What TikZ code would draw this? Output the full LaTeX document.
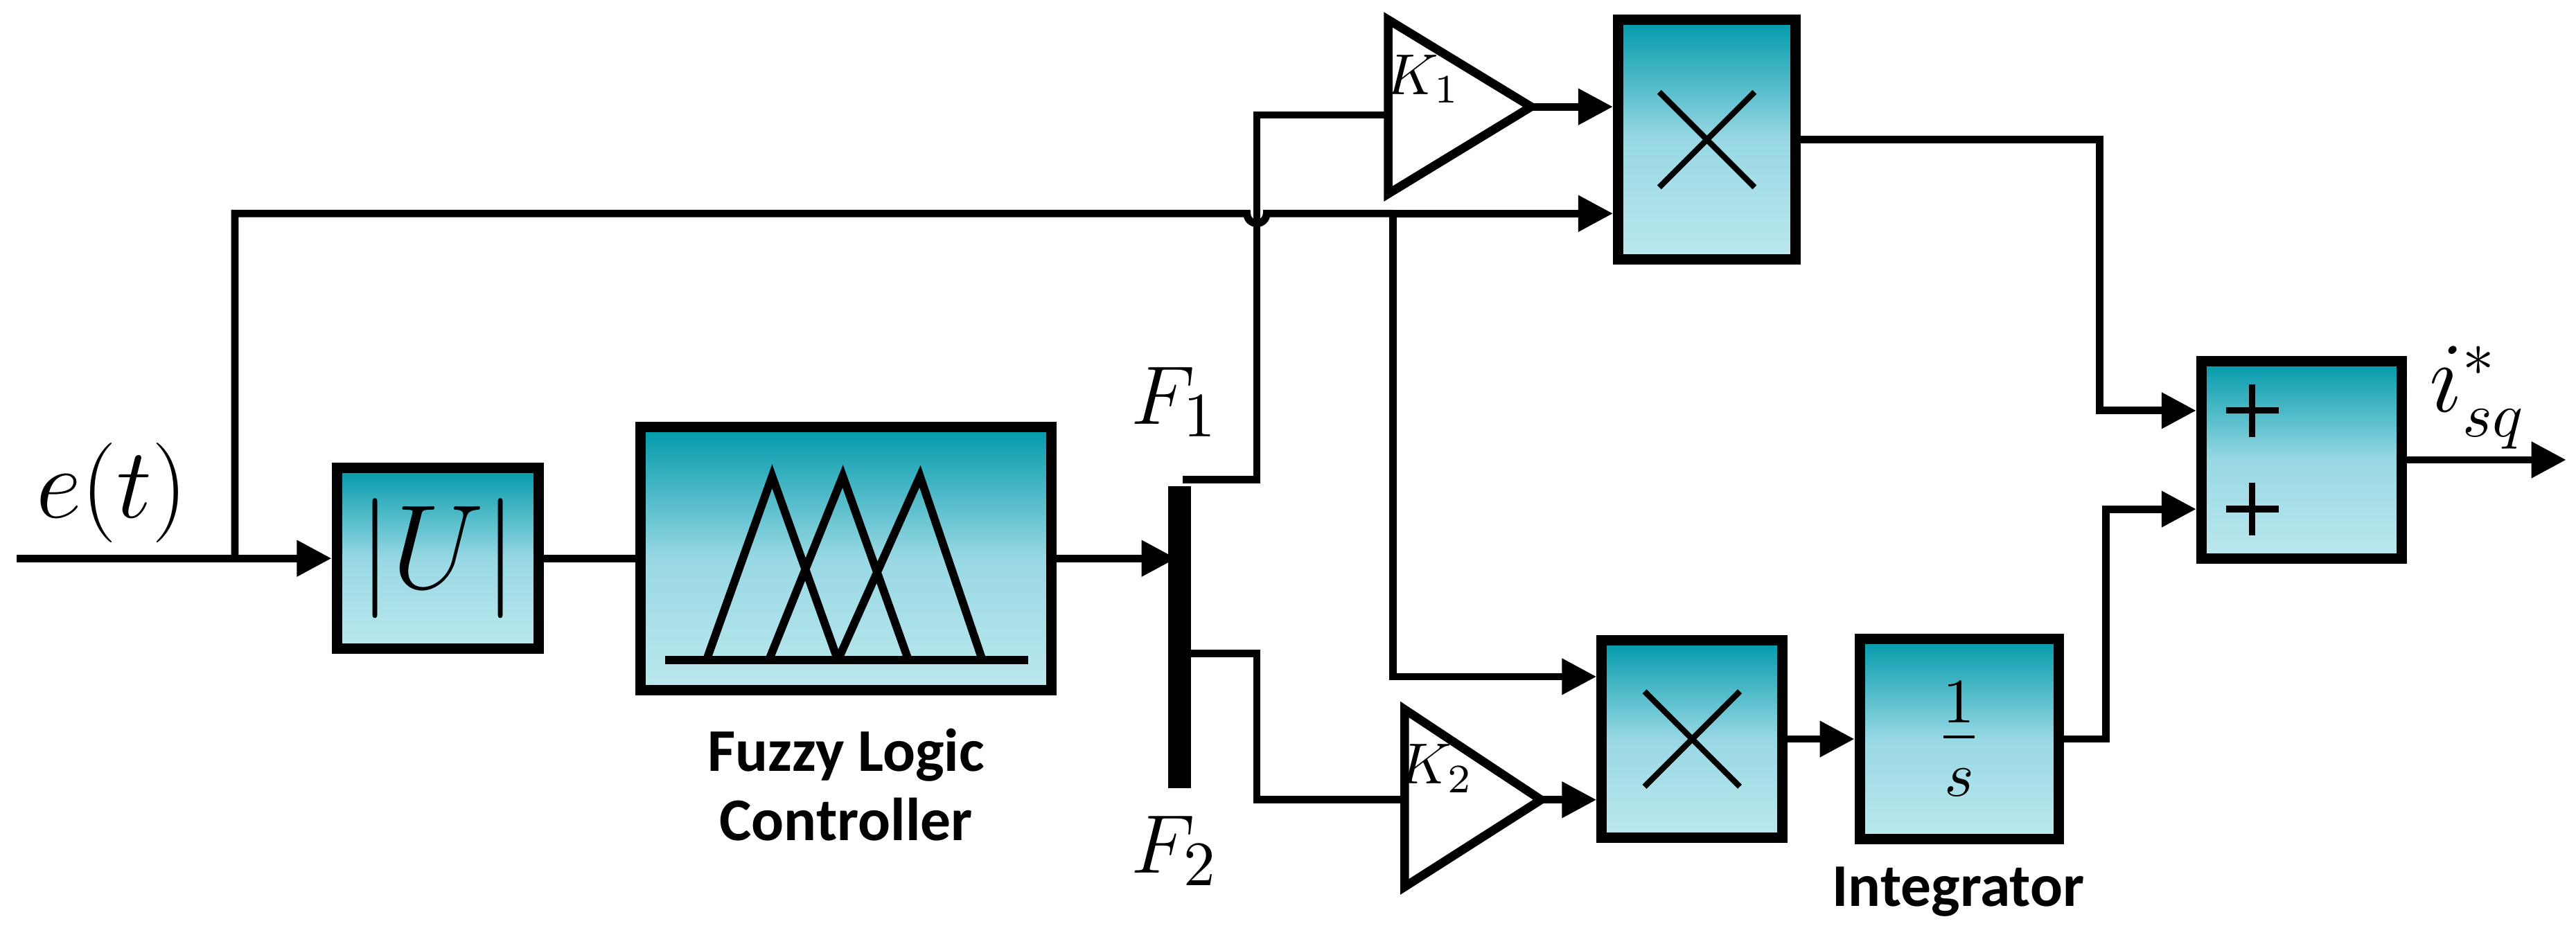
\documentclass[tikz,border=0pt]{standalone}
\usepackage{fontspec}
\setsansfont{Carlito}
\usetikzlibrary{arrows.meta}
\definecolor{tealtop}{HTML}{0099AA}
\definecolor{tealmid}{HTML}{98D8E4}
\definecolor{tealbot}{HTML}{BCE8EE}
\begin{document}
\begin{tikzpicture}[x=0.01cm,y=-0.01cm,
  wire/.style={line width=1.3pt},
  arr/.style={wire,-{Triangle[length=6pt,width=6pt]}},
  blk/.style={draw,line width=1.8pt,top color=tealtop,bottom color=tealbot,middle color=tealmid,inner sep=0pt},
  lbl/.style={font=\sffamily\bfseries\fontsize{10.5}{12}\selectfont,align=center},
  gain/.style={line width=1.5pt,fill=white,line join=miter}]
\useasboundingbox (0,0) rectangle (1568,569);
% blocks
\node[blk,minimum width=1.23cm,minimum height=1.10cm] (U) at (266.5,340) {\fontsize{20}{22}\selectfont$\left|U\right|$};
\node[blk,minimum width=2.50cm,minimum height=1.60cm] (F) at (515,340) {};
\node[blk,minimum width=1.08cm,minimum height=1.46cm] (M1) at (1039,85) {};
\node[blk,minimum width=1.10cm,minimum height=1.20cm] (M2) at (1030,450) {};
\node[blk,minimum width=1.21cm,minimum height=1.22cm] (I) at (1192.5,450) {\fontsize{16}{18}\selectfont$\frac{1}{s}$};
\node[blk,minimum width=1.22cm,minimum height=1.20cm] (S) at (1401,280) {};
% multiply crosses
\foreach \n in {M1,M2}{
  \draw[line width=1pt] ([shift={(-2.9mm,-2.9mm)}]\n.center) -- ([shift={(2.9mm,2.9mm)}]\n.center);
  \draw[line width=1pt] ([shift={(-2.9mm,2.9mm)}]\n.center) -- ([shift={(2.9mm,-2.9mm)}]\n.center);}
\foreach \yy in {250,310}{
  \draw[line width=1.1pt] (1355,\yy) -- (1387,\yy) (1371,\yy-16) -- (1371,\yy+16);}
% fuzzy membership functions
\draw[line width=1.4pt] (405,402) -- (626,402);
\draw[line width=1.4pt] (430,402) -- (470,290) -- (510,402)
  (468,402) -- (513,290) -- (553,402)
  (510,402) -- (560,290) -- (598,402);
% mux bar
\draw[line width=4pt] (718,296) -- (718,480);
\node[font=\fontsize{15}{17}\selectfont] at (715,245) {$F_1$};
\node[font=\fontsize{15}{17}\selectfont] at (715,518) {$F_2$};
% gains
\draw[gain] (845,12) -- (932,65) -- (845,118) -- cycle;
\coordinate (K1i) at (845,70); \coordinate (K1o) at (932,65);
\node[font=\fontsize{10}{12}\selectfont] at (866,48) {$K_1$};
\draw[gain] (855,432) -- (938,487) -- (855,540) -- cycle;
\coordinate (K2i) at (855,487); \coordinate (K2o) at (938,487);
\node[font=\fontsize{10}{12}\selectfont] at (874,468) {$K_2$};
% labels
\node[font=\fontsize{16}{18}\selectfont] (et) at (68,300) {$e(t)$};
\node[lbl] at (515,478) {Fuzzy Logic\\Controller};
\node[lbl] at (1192,543) {Integrator};
\node[font=\fontsize{16}{18}\selectfont] at (1508,242) {$i_{sq}^{*}$};
% wires
\coordinate (in) at (10,340);
\coordinate (br) at (143,340);
\draw[arr] (in) -- (U.west);
\draw[wire] (U.east) -- (F.west);
\draw[arr] (F.east) -- (716,340);
\draw[wire] (br) |- (759,130) arc[start angle=180,end angle=0,radius=6] -- (848,130) coordinate (tap);
\draw[arr] (tap) -- (M1.west |- 0,130);
\draw[arr] (tap) |- (M2.west |- 0,412);
\draw[wire] (720,292) -| (765,70) -- (K1i);
\draw[arr] (K1o) -- (M1.west |- K1o);
\draw[wire] (720,398) -| (765,487) -- (K2i);
\draw[arr] (K2o) -- (M2.west |- K2o);
\draw[arr] (M2.east) -- (I.west);
\draw[arr] (M1.east) -| (1278,250) -- (S.west |- 0,250);
\draw[arr] (I.east) -| (1282,310) -- (S.west |- 0,310);
\coordinate (out) at (1562,280);
\draw[arr] (S.east) -- (out);
\end{tikzpicture}
\end{document}
